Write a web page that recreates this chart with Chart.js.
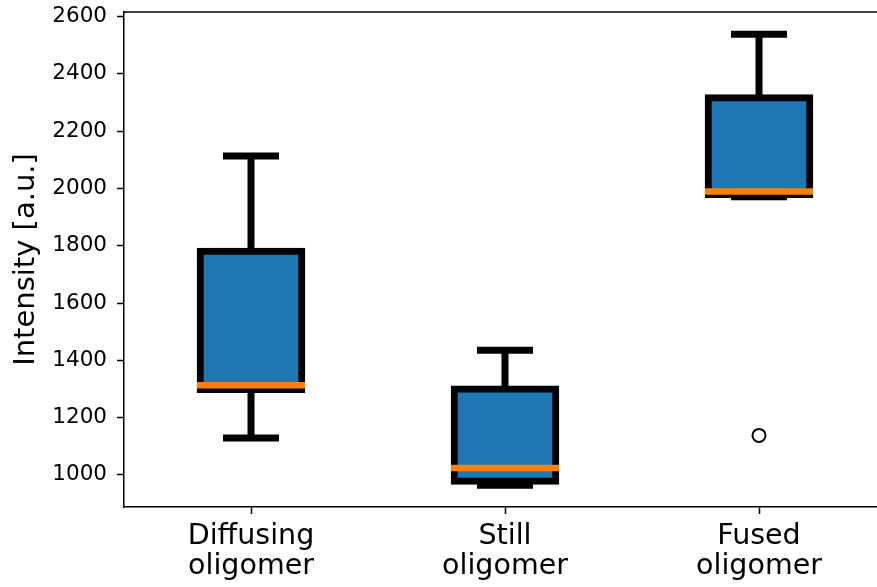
<!DOCTYPE html>
<html>
<head>
<meta charset="utf-8">
<script src="https://cdn.jsdelivr.net/npm/chart.js@4/dist/chart.umd.min.js"></script>
<style>
  html, body { margin: 0; padding: 0; background: #fff; overflow: hidden; }
  #wrap { width: 892px; height: 587px; }
</style>
</head>
<body>
<div id="wrap"><canvas id="box"></canvas></div>
<script>
// ── Data ──────────────────────────────────────────────────────────────────────
const groups   = [['Diffusing', 'oligomer'], ['Still', 'oligomer'], ['Fused', 'oligomer']];
const q1       = [1298, 978, 1979];
const q3       = [1781, 1300, 2317];
const medians  = [1313, 1024, 1989];
const whiskLo  = [1129, 964, 1971];
const whiskHi  = [2113, 1435, 2538];
const fliers   = [null, null, 1138];
const yTicks   = [1000, 1200, 1400, 1600, 1800, 2000, 2200, 2400, 2600];

const FONT = "'DejaVu Sans', sans-serif";
const C = { box: '#1f77b4', median: '#ff7f0e', ink: '#000000' };

// matplotlib-like top spine (right one falls outside the picture)
const topSpine = {
  id: 'topSpine',
  afterDraw(chart) {
    const { ctx, chartArea } = chart;
    ctx.save();
    ctx.strokeStyle = C.ink;
    ctx.lineWidth = 1.5;
    ctx.beginPath();
    ctx.moveTo(chartArea.left, chartArea.top);
    ctx.lineTo(chartArea.right, chartArea.top);
    ctx.stroke();
    ctx.restore();
  },
};

new Chart(document.getElementById('box'), {
  type: 'bar',
  data: {
    labels: groups,
    datasets: [
      {
        label: 'whiskers',
        data: whiskLo.map((lo, i) => [lo, whiskHi[i]]),
        backgroundColor: C.ink,
        borderWidth: 0,
        barThickness: 7,
        grouped: false,
        inflateAmount: 0,
        order: 3,
      },
      {
        label: 'box',
        data: q1.map((v, i) => [v, q3[i]]),
        backgroundColor: C.box,
        borderColor: C.ink,
        borderWidth: 7,
        borderSkipped: false,
        inflateAmount: 3.5,
        barPercentage: 0.4,
        categoryPercentage: 1,
        grouped: false,
        order: 2,
      },
      {
        type: 'line',
        label: 'caps high',
        data: whiskHi,
        showLine: false,
        pointStyle: 'line',
        pointRadius: 28,
        pointHoverRadius: 28,
        pointBorderWidth: 7,
        pointBorderColor: C.ink,
        order: 1,
      },
      {
        type: 'line',
        label: 'caps low',
        data: whiskLo,
        showLine: false,
        pointStyle: 'line',
        pointRadius: 28,
        pointHoverRadius: 28,
        pointBorderWidth: 7,
        pointBorderColor: C.ink,
        order: 1,
      },
      {
        type: 'line',
        label: 'median',
        data: medians,
        showLine: false,
        pointStyle: 'line',
        pointRadius: 54,
        pointHoverRadius: 54,
        pointBorderWidth: 6.5,
        pointBorderColor: C.median,
        order: 0,
      },
      {
        type: 'line',
        label: 'fliers',
        data: fliers,
        showLine: false,
        pointStyle: 'circle',
        pointRadius: 6.5,
        pointHoverRadius: 6.5,
        pointBorderWidth: 2,
        pointBorderColor: C.ink,
        pointBackgroundColor: '#ffffff',
        order: 0,
      },
    ],
  },
  options: {
    responsive: true,
    maintainAspectRatio: false,
    animation: false,
    events: [],
    layout: { autoPadding: false, padding: { top: 12, right: 6, left: 0, bottom: 0 } },
    plugins: { legend: { display: false }, tooltip: { enabled: false } },
    scales: {
      x: {
        offset: true,
        grid: { display: true, offset: false, drawOnChartArea: false, drawTicks: true, tickLength: 7, tickColor: C.ink, tickWidth: 1.5 },
        border: { display: true, color: C.ink, width: 1.5 },
        ticks: {
          color: C.ink,
          padding: 7,
          maxRotation: 0,
          font: { family: FONT, size: 28.5, lineHeight: 1.07 },
        },
        afterFit: (scale) => { scale.height = 80; },
      },
      y: {
        min: 888,
        max: 2616,
        grid: { display: true, drawOnChartArea: false, drawTicks: true, tickLength: 7, tickColor: C.ink, tickWidth: 1.5 },
        border: { display: true, color: C.ink, width: 1.5 },
        afterBuildTicks: (scale) => { scale.ticks = yTicks.map(v => ({ value: v })); },
        ticks: {
          color: C.ink,
          padding: 10,
          font: { family: FONT, size: 21.5 },
          callback: (v) => String(v),
        },
        title: {
          display: true,
          text: 'Intensity [a.u.]',
          color: C.ink,
          font: { family: FONT, size: 29 },
          padding: { top: 9, bottom: 0 },
        },
        afterFit: (scale) => { scale.width = 124; scale.paddingTop = 0; scale.paddingBottom = 0; },
      },
    },
  },
  plugins: [topSpine],
});
</script>
</body>
</html>
